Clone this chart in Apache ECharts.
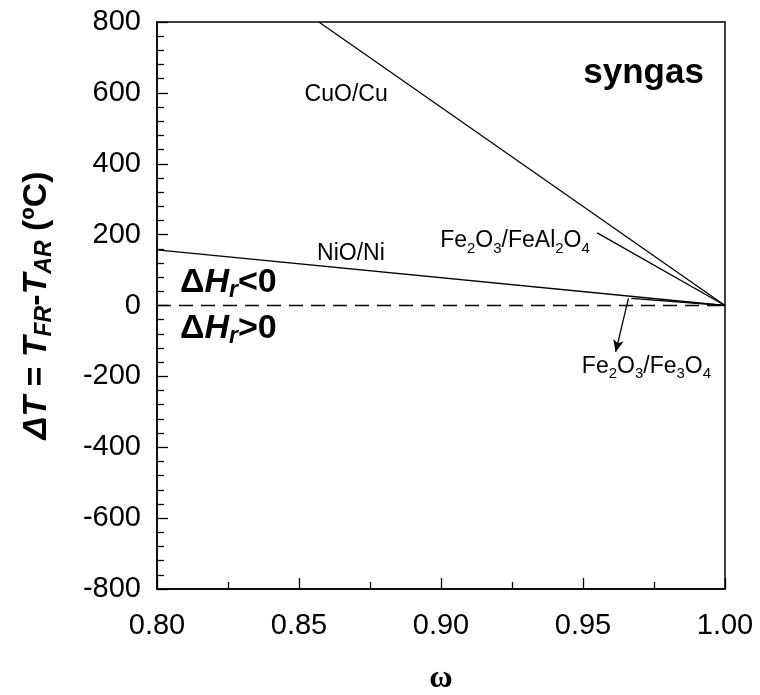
<!DOCTYPE html>
<html>
<head>
<meta charset="utf-8">
<script src="https://cdn.jsdelivr.net/npm/echarts@6/dist/echarts.min.js"></script>
<style>
  html, body { margin: 0; padding: 0; background: #fff; }
  #chart { width: 760px; height: 695px; }
</style>
</head>
<body>
<div id="chart"></div>
<script>
// lines: [omega, deltaT]
const cuoCu = [[0.857, 800], [1.00, 0]];
const feAl = [[0.955, 205], [1.00, 0]];
const nioNi = [[0.80, 157], [1.00, 0]];
const feFe3o4 = [[0.967, 20], [1.00, 0]];
const zeroLine = [[0.80, 0], [1.00, 0]];
const arrowFrom = [0.966, 20];
const arrowTo = [0.9615, -131];

const xTicks = {min: 0.80, max: 1.00, step: 0.05};
const yTicks = {min: -800, max: 800, step: 200};

// annotation: [omega, deltaT, text, align]
const notes = [
  [0.8666, 596, 'CuO/Cu', 'center'],
  [0.8683, 146, 'NiO/Ni', 'center'],
  [0.8997, 182, 'Fe{s|2}O{s|3}/FeAl{s|2}O{s|4}', 'left'],
  [0.9496, -172, 'Fe{s|2}O{s|3}/Fe{s|3}O{s|4}', 'left'],
  [0.9501, 656, '{b|syngas}', 'left'],
  [0.8081, 64, '{h|Δ}{hi|H}{hs|r}{h|<0}', 'left'],
  [0.8081, -66, '{h|Δ}{hi|H}{hs|r}{h|>0}', 'left']
];

const chart = echarts.init(document.getElementById('chart'));
const font = '"Liberation Sans", Arial, sans-serif';

const lineStyle = {color: '#000', width: 1.3};
const mkLine = (data) => ({
  type: 'line', data: data, symbol: 'none', lineStyle: lineStyle, silent: true
});

let option = {
  animation: false,
  grid: {
    left: 157, right: 35, top: 22, bottom: 106,
    outerBoundsMode: 'none',
    show: true, borderColor: '#000', borderWidth: 1.5
  },
  xAxis: {
    type: 'value', min: xTicks.min, max: xTicks.max, interval: xTicks.step,
    name: 'ω', nameLocation: 'middle', nameGap: 74,
    nameTextStyle: {fontFamily: '"Liberation Serif", "DejaVu Serif", serif', fontSize: 32, fontWeight: 'bold', color: '#000'},
    axisLine: {onZero: false, lineStyle: {color: '#000', width: 1.5}},
    axisTick: {inside: true, length: 11, lineStyle: {color: '#000', width: 1.3}},
    minorTick: {show: true, splitNumber: 2, length: 7, lineStyle: {color: '#000', width: 1.3}},
    splitLine: {show: false},
    axisLabel: {
      fontFamily: font, fontSize: 29, color: '#000', margin: 22,
      formatter: v => v.toFixed(2)
    }
  },
  yAxis: {
    type: 'value', min: yTicks.min, max: yTicks.max, interval: yTicks.step,
    name: '{n|ΔT}{r| = }{n|T}{s|FR}{r|-}{n|T}{s|AR}{r| (ºC)}',
    nameLocation: 'middle', nameGap: 101, nameRotate: 90,
    nameTextStyle: {
      fontFamily: font, fontSize: 34, fontWeight: 'bold', color: '#000',
      rich: {
        n: {fontFamily: font, fontSize: 34, fontWeight: 'bold', fontStyle: 'italic', color: '#000', lineHeight: 38},
        r: {fontFamily: font, fontSize: 34, fontWeight: 'bold', color: '#000', lineHeight: 38},
        s: {fontFamily: font, fontSize: 23, fontWeight: 'bold', fontStyle: 'italic', color: '#000', lineHeight: 12, verticalAlign: 'bottom'}
      }
    },
    axisLine: {onZero: false, lineStyle: {color: '#000', width: 1.5}},
    axisTick: {inside: true, length: 11, lineStyle: {color: '#000', width: 1.3}},
    minorTick: {show: true, splitNumber: 5, length: 7, lineStyle: {color: '#000', width: 1.3}},
    splitLine: {show: false},
    axisLabel: {fontFamily: font, fontSize: 29, color: '#000', margin: 16}
  },
  series: [
    mkLine(cuoCu),
    mkLine(feAl),
    mkLine(nioNi),
    mkLine(feFe3o4),
    {
      type: 'line', data: zeroLine, symbol: 'none', silent: true,
      lineStyle: {color: '#000', width: 1.3, type: [14, 8]},
      markLine: {
        silent: true, animation: false,
        symbol: ['none', 'arrow'], symbolSize: [8, 12],
        label: {show: false},
        lineStyle: {color: '#000', width: 1.3, type: 'solid'},
        data: [[{coord: arrowFrom}, {coord: arrowTo}]]
      }
    },
    {
      type: 'scatter', symbolSize: 0, silent: true,
      itemStyle: {opacity: 1},
      data: notes.map(n => ({
        value: [n[0], n[1]],
        label: {show: true, position: 'inside', align: n[3], formatter: n[2]}
      })),
      label: {
        fontFamily: font, fontSize: 23, color: '#000', lineHeight: 30,
        rich: {
          s: {fontFamily: font, fontSize: 15, color: '#000', lineHeight: 10, verticalAlign: 'bottom'},
          b: {fontFamily: font, fontSize: 35, fontWeight: 'bold', color: '#000'},
          h: {fontFamily: font, fontSize: 34, fontWeight: 'bold', color: '#000', lineHeight: 38},
          hi: {fontFamily: font, fontSize: 34, fontWeight: 'bold', fontStyle: 'italic', color: '#000', lineHeight: 38},
          hs: {fontFamily: font, fontSize: 23, fontWeight: 'bold', fontStyle: 'italic', color: '#000', lineHeight: 8, verticalAlign: 'bottom'}
        }
      }
    }
  ]
};

chart.setOption(option);
</script>
</body>
</html>
